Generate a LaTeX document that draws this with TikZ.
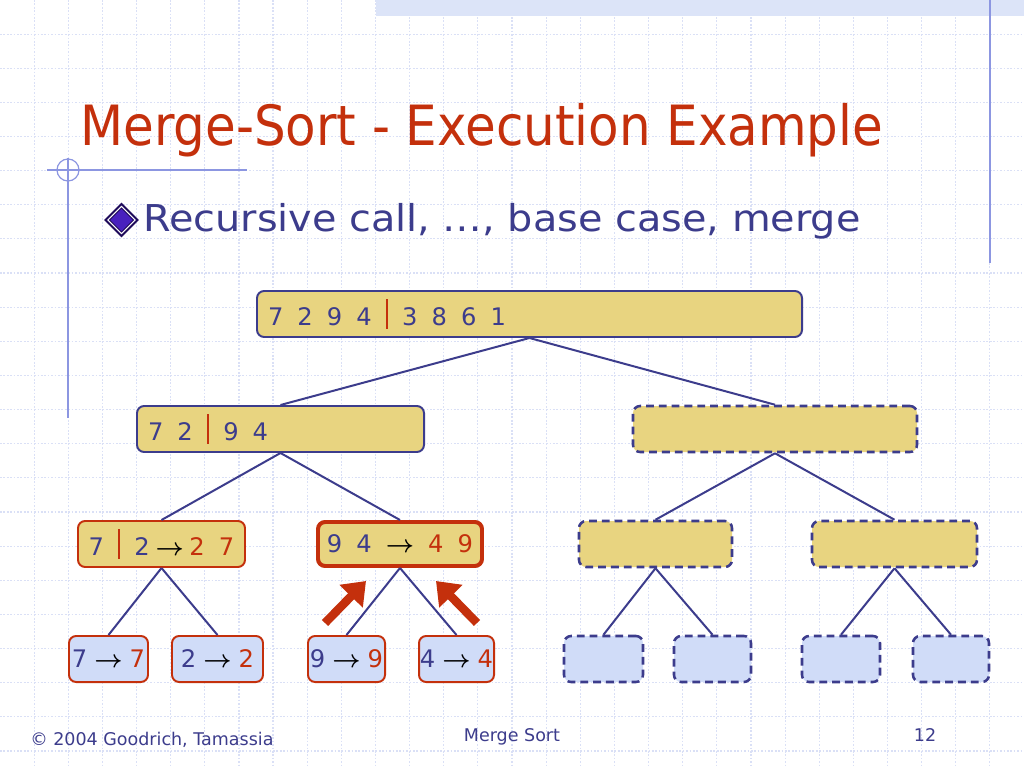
\documentclass[tikz,border=0pt]{standalone}
\usepackage{amsmath}
\usepackage{fontspec}
\setmainfont{DejaVu Sans}
\newfontfamily\condfont{DejaVu Sans Condensed}
\newfontfamily\pointfont[FakeStretch=1.075]{DejaVu Sans}
\usetikzlibrary{arrows.meta, positioning}

\definecolor{slidered}{RGB}{196,48,12}
\definecolor{inkblue}{RGB}{60,60,140}
\definecolor{boxyellow}{RGB}{232,212,128}
\definecolor{boxblue}{RGB}{208,220,248}
\definecolor{gridblue}{RGB}{218,224,246}
\definecolor{ruleblue}{RGB}{140,150,225}
\definecolor{bandblue}{RGB}{220,228,248}
\definecolor{bulletfill}{RGB}{72,32,190}
\definecolor{bulletedge}{RGB}{30,10,90}

\newdimen\pu \pu=0.703125pt
\DeclareRobustCommand\widespace{\spaceskip=9.9pt\relax}
\newcommand\splitbar{\hspace{10pt}\textcolor{slidered}{\rule[-2.1pt]{1.4pt}{20.4pt}}\hspace{10pt}}
\newcommand\goes{\textcolor{black}{$\boldsymbol{\rightarrow}$}}
\newcommand\done[1]{\textcolor{slidered}{#1}}

\begin{document}
\begin{tikzpicture}[
			x=0.703125pt, y=-0.703125pt,
			box/.style={draw, rounded corners=5pt, minimum height=46\pu, inner ysep=0pt, inner xsep=0pt,
				font=\fontsize{17}{20}\selectfont\widespace, text=inkblue, line width=1.4pt},
			split/.style={box, fill=boxyellow, draw=inkblue},
			wideleft/.style={text width=#1, inner xsep=11\pu, align=left, execute at begin node=\widespace},
			merged/.style={box, fill=boxyellow, draw=slidered},
			active/.style={merged, line width=2.8pt, minimum height=44\pu},
			leaf/.style={box, fill=boxblue, draw=slidered},
			pending/.style={box, fill=boxyellow, draw=inkblue, line width=1.8pt, dash pattern=on 5.5pt off 3.5pt},
			pendleaf/.style={pending, fill=boxblue},
			edge/.style={draw=inkblue, line width=1.4pt},
			push/.style={-{Triangle[length=15pt, width=22pt]}, slidered, line width=6pt},
			gridline/.style={gridblue, line width=0.8pt, dash pattern=on 1.2pt off 1.2pt},
			footer/.style={inner sep=0, font=\fontsize{12.3}{14}\selectfont, text=inkblue}
			]
			
			% Slide background
			\fill[white] (0,0) rectangle (1024,768);
			\useasboundingbox (0,0) rectangle (1024,768);
			\foreach \i in {1,...,29} \draw[gridline] (\i*34.133,0) -- (\i*34.133,768);
			\foreach \j in {1,...,22} \draw[gridline] (0,\j*34.133) -- (1024,\j*34.133);
			\fill[bandblue] (376,0) rectangle (1024,16);
			\draw[ruleblue, line width=1.5\pu] (990,0) -- (990,263);
			\draw[ruleblue, line width=1.2\pu] (47,170) -- (247,170) (68,158) -- (68,418);
			\draw[ruleblue, line width=1.2\pu] (68,170) circle[radius=11];
			
			% Title and bullet
			\node[anchor=base west, inner sep=0, font=\condfont\fontsize{39}{44}\selectfont, text=slidered] (title) at (80,146) {Merge-Sort - Execution Example};
			\draw[bulletedge, line width=1.8\pu] (121.5,204) -- (137.5,220) -- (121.5,236) -- (105.5,220) -- cycle;
			\filldraw[fill=bulletfill, draw=bulletedge, line width=0.8\pu] (121.5,208) -- (133.5,220) -- (121.5,232) -- (109.5,220) -- cycle;
			\node[anchor=base west, inner sep=0, font=\pointfont\fontsize{26}{30}\selectfont, text=inkblue] (point) at (143,232) {Recursive call, …, base case, merge};
			
			% Nodes
			\node (seq) [split, wideleft=523\pu] at (529.5,314) {7 2 9 4\splitbar 3 8 6 1};
			\node (seq_l) [split, wideleft=265\pu] at (280.5,429) {7 2\splitbar 9 4};
			\node (seq_r) [pending, minimum width=284\pu] at (775,429) {};
			\node (seq_ll) [merged, minimum width=167\pu] at (161.5,544) {7\splitbar 2\hspace{4pt}\goes\hspace{4pt}\done{2 7}};
			\node (seq_lr) [active, minimum width=164\pu] at (400,544) {9 4 \goes{} \done{4 9}};
			\node (seq_rl) [pending, minimum width=153\pu] at (655.5,544) {};
			\node (seq_rr) [pending, minimum width=165\pu] at (894.5,544) {};
			\node (seq_lll) [leaf, minimum width=79\pu] at (108.5,659) {7\hspace{5pt}\goes\hspace{5pt}\done{7}};
			\node (seq_llr) [leaf, minimum width=91\pu] at (217.5,659) {2\hspace{5pt}\goes\hspace{5pt}\done{2}};
			\node (seq_lrl) [leaf, minimum width=77\pu] at (346.5,659) {9\hspace{5pt}\goes\hspace{5pt}\done{9}};
			\node (seq_lrr) [leaf, minimum width=75\pu] at (456.5,659) {4\hspace{5pt}\goes\hspace{5pt}\done{4}};
			\node (seq_rll) [pendleaf, minimum width=79\pu] at (603.5,659) {};
			\node (seq_rlr) [pendleaf, minimum width=77\pu] at (712.5,659) {};
			\node (seq_rrl) [pendleaf, minimum width=78\pu] at (841,659) {};
			\node (seq_rrr) [pendleaf, minimum width=76\pu] at (951,659) {};
			\coordinate (push_l) at (325,623);
			\coordinate (aim_l) at (366,581);
			\coordinate (push_r) at (477,623);
			\coordinate (aim_r) at (436,581);
			
			% Connections
			\draw [edge] (seq.south) -- (seq_l.north);
			\draw [edge] (seq.south) -- (seq_r.north);
			\draw [edge] (seq_l.south) -- (seq_ll.north);
			\draw [edge] (seq_l.south) -- (seq_lr.north);
			\draw [edge] (seq_r.south) -- (seq_rl.north);
			\draw [edge] (seq_r.south) -- (seq_rr.north);
			\draw [edge] (seq_ll.south) -- (seq_lll.north);
			\draw [edge] (seq_ll.south) -- (seq_llr.north);
			\draw [edge] (seq_lr.south) -- (seq_lrl.north);
			\draw [edge] (seq_lr.south) -- (seq_lrr.north);
			\draw [edge] (seq_rl.south) -- (seq_rll.north);
			\draw [edge] (seq_rl.south) -- (seq_rlr.north);
			\draw [edge] (seq_rr.south) -- (seq_rrl.north);
			\draw [edge] (seq_rr.south) -- (seq_rrr.north);
			\draw [push] (push_l) -- (aim_l);
			\draw [push] (push_r) -- (aim_r);
			
			% Footer
			\node[footer, anchor=base west] (credit) at (30,745) {© 2004 Goodrich, Tamassia};
			\node[footer, anchor=base] (topic) at (512,741) {Merge Sort};
			\node[footer, anchor=base] (page) at (925,741) {12};
			
		\end{tikzpicture}
\end{document}
